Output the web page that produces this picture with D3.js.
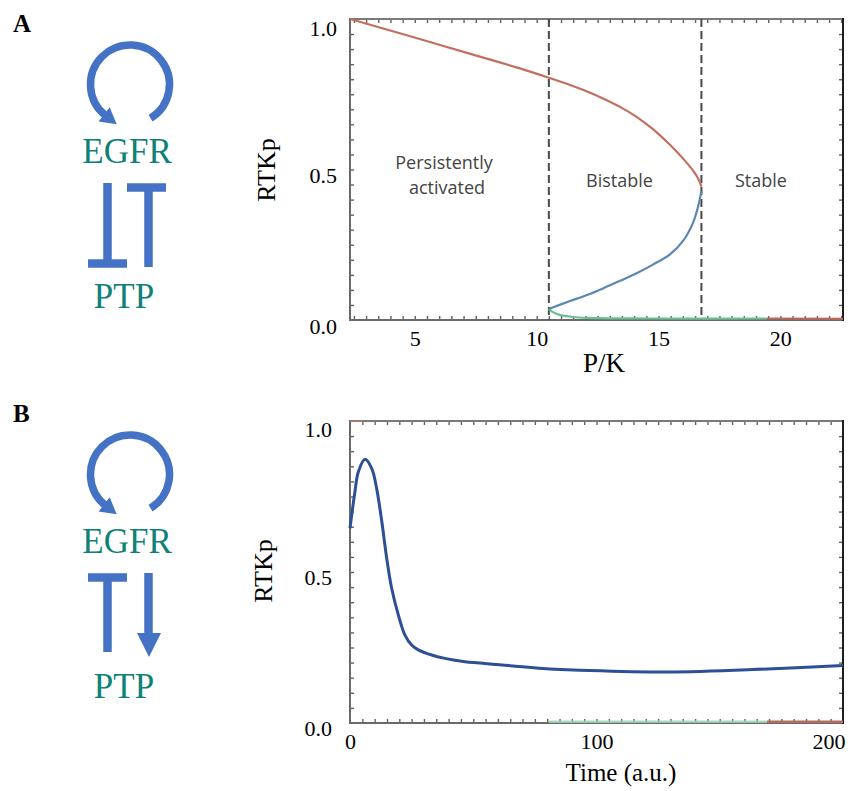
<!DOCTYPE html>
<html>
<head>
<meta charset="utf-8">
<script src="https://cdn.jsdelivr.net/npm/d3@7"></script>
<style>
  html, body { margin: 0; padding: 0; background: #ffffff; }
  svg { display: block; }
</style>
</head>
<body>
<div id="chart"></div>
<script>
// ---------- data ----------
// Panel A: steady-state RTKp versus P/K (bifurcation diagram)
const upperBranch = [[2.34,1.0],[4.92,0.940],[7.67,0.875],[9.31,0.836],[10.50,0.805],[11.37,0.781],
  [12.05,0.760],[12.72,0.736],[13.42,0.708],[14.10,0.675],[14.77,0.634],[15.47,0.582],
  [16.00,0.537],[16.41,0.497],[16.62,0.471],[16.76,0.443]];
const middleBranch = [[16.76,0.428],[16.62,0.376],[16.41,0.322],[16.00,0.262],[15.47,0.218],
  [14.77,0.184],[14.12,0.156],[13.42,0.130],[12.72,0.105],[12.06,0.083],[11.37,0.063],
  [10.83,0.047],[10.50,0.037]];
const lowerBranch = [[10.50,0.037],[10.65,0.027],[10.94,0.017],[11.47,0.010],[12.06,0.007],
  [14.65,0.005],[19.45,0.005]];
const lowerTail = [[19.45,0.005],[22.57,0.004]];
const foldPoints = [10.50, 16.76];
const regionNames = [["Persistently", "activated"], ["Bistable"], ["Stable"]];
const regionCenters = [6.2, 13.4, 19.2];
const aXTickLabels = [5, 10, 15, 20];
const aYTickLabels = [0, 0.5, 1.0];

// Panel B: RTKp time course
const timeCourse = [[0,0.645],[2.0,0.766],[3.4,0.832],[6.1,0.873],[8.8,0.843],[10.8,0.777],
  [12.9,0.667],[14.9,0.545],[16.9,0.446],[19.6,0.358],[22.3,0.291],[25.0,0.258],[27.7,0.242],
  [33.1,0.225],[38.5,0.214],[46.7,0.203],[52.7,0.199],[81.1,0.179],[93.3,0.175],
  [128.6,0.169],[169.2,0.179],[200,0.19]];
const bGreenTrace = [[80.7,0.004],[169.2,0.004]];
const bRedTrace = [[169.2,0.004],[200,0.004]];
const bTopTrace = [[0,1.0],[5,1.0]];
const bXTickLabels = [0, 100, 200];
const bYTickLabels = [0, 0.5, 1.0];

// ---------- setup ----------
const W = 850, H = 791;
const svg = d3.select("#chart").append("svg").attr("width", W).attr("height", H);
const serif = "'Liberation Serif', 'Times New Roman', serif";
const sans = "'Open Sans', Lato, sans-serif";
const motifBlue = "#4472c4";
const teal = "#0f8278";

// ---------- regulatory motifs ----------
function drawMotif(g, letter, lowerKind) {
  g.append("text").attr("x", 13).attr("y", 32).text(letter)
    .attr("font-family", serif).attr("font-weight", "bold").attr("font-size", 25);

  // self-activation loop
  const cx = 130, cy = 84.5, r = 39.5;
  const a0 = 58.7 * Math.PI / 180, a1 = -232 * Math.PI / 180;
  const p = d3.path();
  p.arc(cx, cy, r, a0, a1, true);
  g.append("path").attr("d", p.toString()).attr("fill", "none")
    .attr("stroke", motifBlue).attr("stroke-width", 7.5);
  const px = cx + r * Math.cos(a1), py = cy + r * Math.sin(a1);
  const tx = Math.sin(a1), ty = -Math.cos(a1);
  const nx = -ty, ny = tx;
  const head = [[px + 14 * tx, py + 14 * ty],
                [px - 2 * tx + 9 * nx, py - 2 * ty + 9 * ny],
                [px - 2 * tx - 9 * nx, py - 2 * ty - 9 * ny]];
  g.append("path").attr("d", d3.line()(head) + "Z").attr("fill", motifBlue);

  g.append("text").attr("x", 127).attr("y", 163).attr("text-anchor", "middle")
    .attr("font-family", serif).attr("font-size", 35).attr("fill", teal).text("EGFR");
  g.append("text").attr("x", 124).attr("y", 308).attr("text-anchor", "middle")
    .attr("font-family", serif).attr("font-size", 35).attr("fill", teal).text("PTP");

  const bar = (x1, y1, x2, y2) => g.append("line")
    .attr("x1", x1).attr("y1", y1).attr("x2", x2).attr("y2", y2)
    .attr("stroke", motifBlue).attr("stroke-width", 8.5);

  if (lowerKind === "mutual") {
    // PTP inhibits EGFR (blunt end at top of right bar) and EGFR inhibits PTP (blunt end at bottom)
    bar(107.5, 183, 107.5, 264);
    bar(88, 263.5, 127, 263.5);
    bar(127, 187.5, 166, 187.5);
    bar(148.5, 187, 148.5, 267);
  } else {
    // PTP inhibits EGFR, EGFR induces PTP
    bar(88, 187.5, 127, 187.5);
    bar(107.5, 187, 107.5, 262);
    bar(148.5, 183, 148.5, 246);
    g.append("path").attr("d", d3.line()([[137, 243], [161, 243], [149, 267]]) + "Z")
      .attr("fill", motifBlue);
  }
}
drawMotif(svg.append("g"), "A", "mutual");
drawMotif(svg.append("g").attr("transform", "translate(0,390)"), "B", "feedback");

// ---------- shared frame drawing ----------
function drawFrame(g, x, y, xMinor, yMinor) {
  const [x0, x1] = x.range(), [y0, y1] = y.range();
  const frameGrey = "#626262";
  // minor ticks on all four sides, pointing inward
  const tickStyle = sel => {
    sel.select(".domain").remove();
    sel.selectAll("line").attr("stroke", frameGrey).attr("stroke-width", 1.4);
  };
  g.append("g").attr("transform", `translate(0,${y0})`)
    .call(d3.axisBottom(x).tickValues(xMinor).tickSize(-4).tickFormat("")).call(tickStyle);
  g.append("g").attr("transform", `translate(0,${y1})`)
    .call(d3.axisTop(x).tickValues(xMinor).tickSize(-4).tickFormat("")).call(tickStyle);
  g.append("g").attr("transform", `translate(${x0},0)`)
    .call(d3.axisLeft(y).tickValues(yMinor).tickSize(-4).tickFormat("")).call(tickStyle);
  g.append("g").attr("transform", `translate(${x1},0)`)
    .call(d3.axisRight(y).tickValues(yMinor).tickSize(-4).tickFormat("")).call(tickStyle);
  // border
  const edge = (a, b, c, d, col) => g.append("line").attr("x1", a).attr("y1", b)
    .attr("x2", c).attr("y2", d).attr("stroke", col).attr("stroke-width", 2);
  edge(x0, y1, x1, y1, "#7a7a7a");
  edge(x0, y0, x1, y0, "#6a6a6a");
  edge(x0, y0 + 1, x0, y1 - 1, "#6a6a6a");
  edge(x1, y0 + 1, x1, y1 - 1, "#1e1e1e");
}

function drawLabels(g, x, y, xVals, yVals, xFmt, yLabelX, yDy) {
  const y0 = y.range()[0];
  const xa = g.append("g").attr("transform", `translate(0,${y0})`)
    .call(d3.axisBottom(x).tickValues(xVals).tickSize(0).tickFormat(xFmt));
  xa.select(".domain").remove();
  xa.selectAll("text").attr("y", 26).attr("dy", 0)
    .attr("font-family", serif).attr("font-size", 22).attr("fill", "#000");
  const ya = g.append("g").attr("transform", `translate(${yLabelX},0)`)
    .call(d3.axisLeft(y).tickValues(yVals).tickSize(0).tickFormat(d3.format(".1f")));
  ya.select(".domain").remove();
  ya.selectAll("text").attr("x", 0).attr("dy", yDy)
    .attr("font-family", serif).attr("font-size", 22).attr("fill", "#000");
  return xa;
}

// ---------- panel A ----------
const aX = d3.scaleLinear().domain([2.34, 22.57]).range([350, 843]);
const aY = d3.scaleLinear().domain([0, 1]).range([320, 19]);
const gA = svg.append("g");

drawFrame(gA, aX, aY, d3.range(2.5, 22.51, 0.5), d3.range(0.05, 0.951, 0.05));
drawLabels(gA, aX, aY, aXTickLabels, aYTickLabels, d3.format("d"), 337, d => d === 1 ? 16 : 13);

gA.selectAll("line.fold").data(foldPoints).join("line").attr("class", "fold")
  .attr("x1", d => aX(d)).attr("x2", d => aX(d))
  .attr("y1", aY(1)).attr("y2", aY(0))
  .attr("stroke", "#4a4a4a").attr("stroke-width", 2).attr("stroke-dasharray", "8,4");

gA.selectAll("g.region").data(regionNames).join("g").attr("class", "region")
  .each(function (lines, i) {
    const grp = d3.select(this);
    const cy = lines.length === 2 ? 169 : 187;
    lines.forEach((t, k) => grp.append("text")
      .attr("x", aX(regionCenters[i]) + (k === 1 ? 3 : 0)).attr("y", cy + k * 25)
      .attr("text-anchor", "middle").attr("font-family", sans).attr("font-size", 18)
      .attr("fill", "#444").text(t));
  });

const lineA = d3.line().x(d => aX(d[0])).y(d => aY(d[1])).curve(d3.curveCatmullRom.alpha(0.5));
const branchStyles = [
  [lowerTail, "#b8685a"],
  [lowerBranch, "#6cbf95"],
  [middleBranch, "#5a88b3"],
  [upperBranch, "#c1705f"]
];
branchStyles.forEach(([data, col]) => gA.append("path").datum(data)
  .attr("d", lineA).attr("fill", "none").attr("stroke", col).attr("stroke-width", 2.2));

gA.append("text").attr("x", 604).attr("y", 372).attr("text-anchor", "middle")
  .attr("font-family", serif).attr("font-size", 27).text("P/K");
gA.append("text").attr("transform", "translate(275,170) rotate(-90)").attr("text-anchor", "middle")
  .attr("font-family", serif).attr("font-size", 26).text("RTKp");

// ---------- panel B ----------
const bX = d3.scaleLinear().domain([0, 200]).range([350, 843]);
const bY = d3.scaleLinear().domain([0, 1]).range([723, 421]);
const gB = svg.append("g");

drawFrame(gB, bX, bY, d3.range(5, 196, 5), d3.range(0.05, 0.951, 0.05));
const bxa = drawLabels(gB, bX, bY, bXTickLabels, bYTickLabels, d3.format("d"), 332, d => d === 1 ? 15 : 12);
bxa.selectAll("text").filter(d => d === 200).attr("text-anchor", "end").attr("dx", 2);

const lineB = d3.line().x(d => bX(d[0])).y(d => bY(d[1]));
gB.append("path").datum(bGreenTrace).attr("d", lineB).attr("fill", "none")
  .attr("stroke", "#9fd2b6").attr("stroke-width", 2.4).attr("opacity", 0.85);
gB.append("path").datum(bRedTrace).attr("d", lineB).attr("fill", "none")
  .attr("stroke", "#b76b5d").attr("stroke-width", 2.4);
gB.append("path").datum(bTopTrace).attr("d", lineB).attr("fill", "none")
  .attr("stroke", "#c0786a").attr("stroke-width", 2).attr("opacity", 0.7);

gB.append("path").datum(timeCourse)
  .attr("d", lineB.curve(d3.curveCatmullRom.alpha(0.5)))
  .attr("fill", "none").attr("stroke", "#2d4f95").attr("stroke-width", 3);

gB.append("text").attr("x", 621).attr("y", 781).attr("text-anchor", "middle")
  .attr("font-family", serif).attr("font-size", 25).text("Time (a.u.)");
gB.append("text").attr("transform", "translate(272,571) rotate(-90)").attr("text-anchor", "middle")
  .attr("font-family", serif).attr("font-size", 26).text("RTKp");
</script>
</body>
</html>
